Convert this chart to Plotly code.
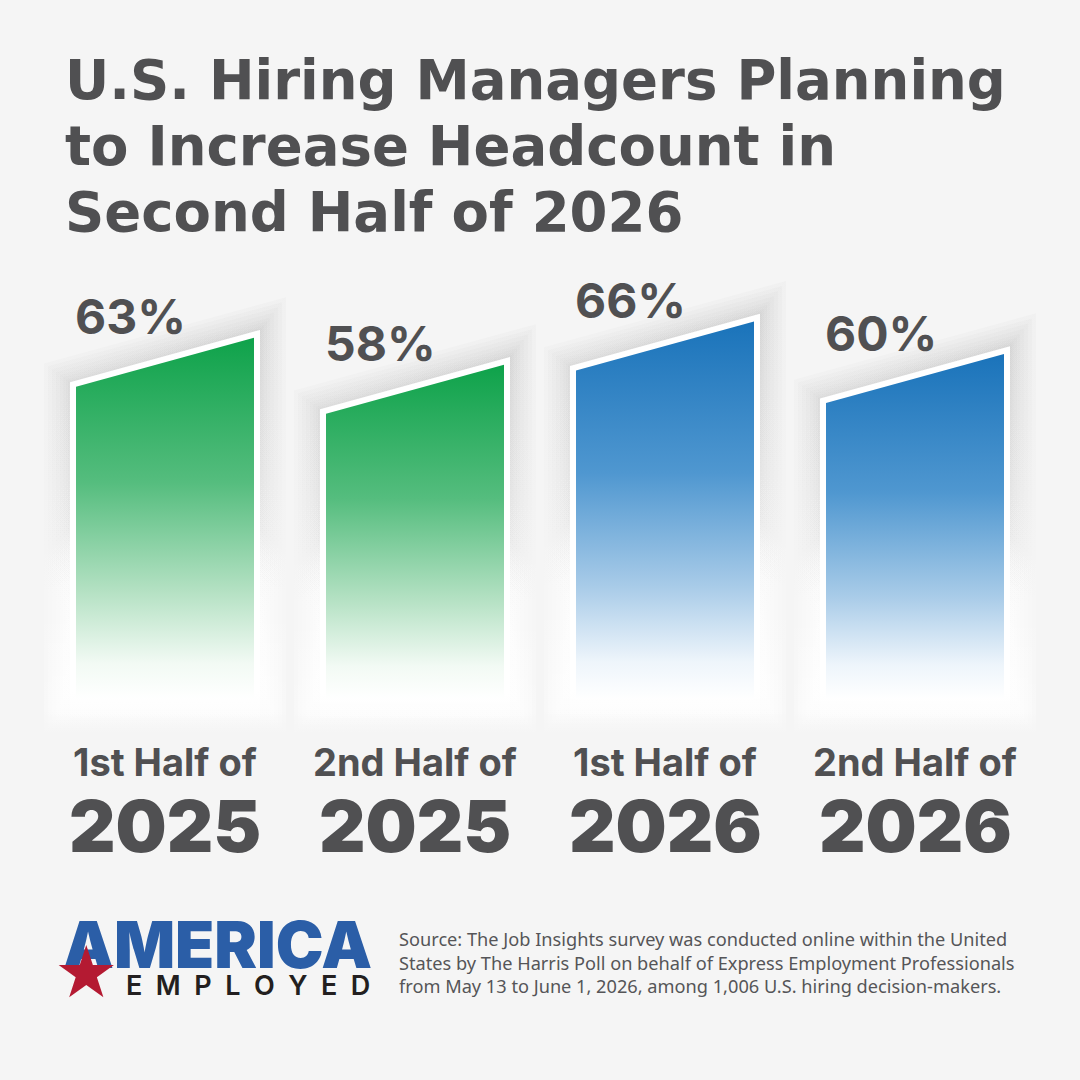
import plotly.graph_objects as go

# ---------------- data ----------------
period_labels = ["1st Half of", "2nd Half of", "1st Half of", "2nd Half of"]
year_labels = ["2025", "2025", "2026", "2026"]
values = [63, 58, 66, 60]
value_labels = ["63%", "58%", "66%", "60%"]
title_lines = ["U.S. Hiring Managers Planning",
               "to Increase Headcount in",
               "Second Half of 2026"]
source_lines = ["Source: The Job Insights survey was conducted online within the United",
                "States by The Harris Poll on behalf of Express Employment Professionals",
                "from May 13 to June 1, 2026, among 1,006 U.S. hiring decision-makers."]

# ---------------- style ----------------
W = H = 1080
BG = "#f5f5f5"
TXT = "#505052"
GREEN = "#0ea24a"
BLUE = "#1a73ba"
green_scale = [[0, "rgba(255,255,255,1)"], [0.10, "#f2faf4"], [0.30, "#b4e1c3"],
               [0.60, "#55bd7e"], [1, GREEN]]
blue_scale = [[0, "rgba(255,255,255,1)"], [0.10, "#eef5fb"], [0.30, "#a8cbe8"],
              [0.60, "#4f97d0"], [1, BLUE]]
scales = [green_scale, green_scale, blue_scale, blue_scale]
shadow_scale = [[0, "rgba(100,100,100,0)"], [0.3, "rgba(100,100,100,0)"],
                [0.6, "rgba(100,100,100,0.015)"], [1, "rgba(90,90,90,0.028)"]]
glow_scale = [[0, "rgba(255,255,255,0)"], [0.06, "rgba(255,255,255,0.3)"],
              [0.3, "rgba(255,255,255,0.12)"], [0.5, "rgba(255,255,255,0)"],
              [1, "rgba(255,255,255,0)"]]

# axis geometry (1 x-unit = 250 px, 1 y-unit = 5.4 px)
PX_X = 250.0
PX_Y = 5.4
X0 = -165 / PX_X
Y_ZERO_PX = 678.0
y_top = Y_ZERO_PX / PX_Y
y_bot = -(H - Y_ZERO_PX) / PX_Y

HW = 89 / PX_X          # half width of coloured bar
SLANT = 49 / PX_Y       # left top lower than right top
BASE = -4.0

fig = go.Figure()


def poly(i, v, ex_px, top_up_r, top_up_l, base):
    ex = ex_px / PX_X
    xs = [i - HW - ex, i - HW - ex, i + HW + ex, i + HW + ex, i - HW - ex]
    ys = [base, v - SLANT + top_up_l, v + top_up_r, base, base]
    return xs, ys


for i, v in enumerate(values):
    # soft shadow + bottom glow layers
    for ex in [32, 28, 24, 20, 16, 13, 10, 8]:
        base = BASE - 2 - ex * 0.15
        xs, ys = poly(i, v, ex, (ex * 1.27) / PX_Y, (ex * 0.73) / PX_Y, base)
        for sc in (shadow_scale, glow_scale):
            fig.add_trace(go.Scatter(
                x=xs, y=ys, mode="lines", fill="toself", line=dict(width=0),
                fillgradient=dict(type="vertical", start=base, stop=v + 6, colorscale=sc),
                hoverinfo="skip", showlegend=False))
    # white border
    xs, ys = poly(i, v, 6, 1.45, 0.84, BASE - 4)
    fig.add_trace(go.Scatter(
        x=xs, y=ys, mode="lines", fill="toself", line=dict(width=0),
        fillgradient=dict(type="vertical", start=BASE - 4, stop=v,
                          colorscale=[[0, "rgba(255,255,255,0)"], [0.08, "rgba(255,255,255,1)"],
                                      [1, "rgba(255,255,255,1)"]]),
        hoverinfo="skip", showlegend=False))
    # gradient bar
    xs, ys = poly(i, v, 0, 0, 0, BASE)
    fig.add_trace(go.Scatter(
        x=xs, y=ys, mode="lines", fill="toself", line=dict(width=0),
        fillgradient=dict(type="vertical", start=BASE, stop=v, colorscale=scales[i]),
        hoverinfo="skip", showlegend=False))

annotations = []
TITLE_FONT = dict(family="DejaVu Sans", size=54.5, color=TXT, weight=700)
for line, cy in zip(title_lines, [80, 146, 212]):
    annotations.append(dict(text=line, xref="paper", yref="paper", x=63 / W, y=1 - cy / H,
                            xanchor="left", yanchor="middle", showarrow=False, font=TITLE_FONT))

for i, v in enumerate(values):
    annotations.append(dict(text=value_labels[i], xref="x", yref="y", x=i - HW, y=v - SLANT,
                            xanchor="left", yanchor="middle", yshift=70, xshift=-3, showarrow=False,
                            font=dict(family="Inter", size=48, color=TXT, weight=700)))
    annotations.append(dict(text=period_labels[i], xref="x", yref="paper", x=i, y=1 - 762 / H,
                            xanchor="center", yanchor="middle", showarrow=False,
                            font=dict(family="Inter", size=38, color=TXT, weight=700)))
    annotations.append(dict(text=year_labels[i], xref="x", yref="paper", x=i, y=1 - 825 / H,
                            xanchor="center", yanchor="middle", showarrow=False,
                            font=dict(family="Inter", size=72, color=TXT, weight=900)))

# logo
annotations.append(dict(text="AMERICA", xref="paper", yref="paper", x=217 / W, y=1 - 944 / H,
                        xanchor="center", yanchor="middle", showarrow=False,
                        font=dict(family="Inter", size=64, color="#2b5ea7", weight=900)))
annotations.append(dict(text="E\u2002M\u2002P\u2002L\u2002O\u2002Y\u2002E\u2002D", xref="paper", yref="paper",
                        x=248 / W, y=1 - 985 / H, xanchor="center", yanchor="middle", showarrow=False,
                        font=dict(family="Inter", size=27, color="#231f20", weight=600)))
annotations.append(dict(text="\u2605", xref="paper", yref="paper", x=86 / W, y=1 - 972 / H,
                        xanchor="center", yanchor="middle", showarrow=False,
                        font=dict(family="DejaVu Sans", size=72, color="#b41a32")))

annotations.append(dict(text="<br>".join(source_lines), xref="paper", yref="paper",
                        x=397 / W, y=1 - 962 / H, xanchor="left", yanchor="middle", align="left",
                        showarrow=False, font=dict(family="Noto Sans", size=18.2, color="#555558")))

fig.update_layout(
    width=W, height=H, margin=dict(l=0, r=0, t=0, b=0),
    paper_bgcolor=BG, plot_bgcolor=BG, showlegend=False,
    xaxis=dict(range=[X0, X0 + W / PX_X], visible=False, fixedrange=True),
    yaxis=dict(range=[y_bot, y_top], visible=False, fixedrange=True),
    annotations=annotations,
)

fig.write_html("out.html")
